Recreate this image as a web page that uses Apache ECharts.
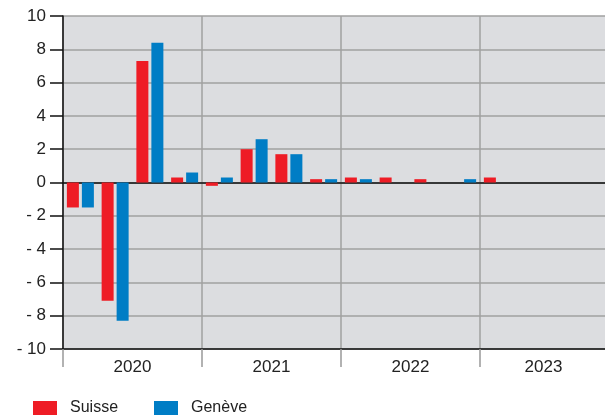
<!DOCTYPE html>
<html>
<head>
<meta charset="utf-8">
<script src="https://cdn.jsdelivr.net/npm/echarts@6/dist/echarts.min.js"></script>
<style>html,body{margin:0;padding:0;background:#fff;}#c{width:605px;height:418px;}</style>
</head>
<body>
<div id="c"></div>
<script>
var years = ['2020', '2021', '2022', '2023'];
var quarters = ['2020 T1','2020 T2','2020 T3','2020 T4','2021 T1','2021 T2','2021 T3','2021 T4','2022 T1','2022 T2','2022 T3','2022 T4','2023 T1','2023 T2','2023 T3','2023 T4'];
var suisse = [-1.5, -7.1, 7.3, 0.3, -0.2, 2.0, 1.7, 0.2, 0.3, 0.3, 0.2, 0, 0.3, 0, 0, 0];
var geneve = [-1.5, -8.3, 8.4, 0.6, 0.3, 2.6, 1.7, 0.2, 0.2, 0, 0, 0.2, 0, 0, 0, 0];

var chart = echarts.init(document.getElementById('c'));
var font = 'Liberation Sans, Arial, sans-serif';
var yearData = years.map(function (y, i) {
  return i === years.length - 1 ? {value: y, textStyle: {padding: [0, 12, 0, 0]}} : y;
});
chart.setOption({
  animation: false,
  textStyle: {fontFamily: font},
  grid: {left: 63, top: 16, width: 556, height: 333, outerBoundsMode: 'none', containLabel: false,
    show: true, backgroundColor: '#dcdde0', borderWidth: 0},
  legend: {
    left: 28, top: 395, itemWidth: 24, itemHeight: 14, itemGap: 36, icon: 'rect',
    textStyle: {fontSize: 16, color: '#222', fontFamily: font, padding: [0,0,0,8]},
    data: ['Suisse', 'Genève']
  },
  xAxis: [
    {
      type: 'category', data: quarters, position: 'bottom',
      axisLine: {show: true, onZero: true, lineStyle: {color: '#111', width: 1.5}},
      axisTick: {show: false}, axisLabel: {show: false}, splitLine: {show: false}
    },
    {
      type: 'category', data: yearData, position: 'bottom', boundaryGap: true,
      axisLine: {show: true, onZero: false, lineStyle: {color: '#111', width: 1.5}},
      axisTick: {show: true, interval: 0, length: 18, lineStyle: {color: '#999', width: 1.5}},
      axisLabel: {show: true, interval: 0, margin: 10, fontSize: 17, color: '#222', fontFamily: font},
      splitLine: {show: true, interval: 0, lineStyle: {color: '#a0a0a0', width: 1.5}}
    }
  ],
  yAxis: {
    type: 'value', min: -10, max: 10, interval: 2,
    axisLine: {show: true, lineStyle: {color: '#111', width: 1.5}},
    axisTick: {show: true, length: 13, lineStyle: {color: '#111', width: 1.5}},
    axisLabel: {fontSize: 17, color: '#222', margin: 17, fontFamily: font,
      formatter: function (v) { return v < 0 ? '- ' + Math.abs(v) : String(v); }},
    splitLine: {show: true, lineStyle: {color: '#a0a0a0', width: 1.5}}
  },
  series: [
    {name: 'Suisse', type: 'bar', xAxisIndex: 0, data: suisse, barWidth: 12, barGap: '25%',
      itemStyle: {color: '#ee1c25'}},
    {name: 'Genève', type: 'bar', xAxisIndex: 0, data: geneve, barWidth: 12, barGap: '25%',
      itemStyle: {color: '#007dc5'}}
  ]
});
</script>
</body>
</html>
